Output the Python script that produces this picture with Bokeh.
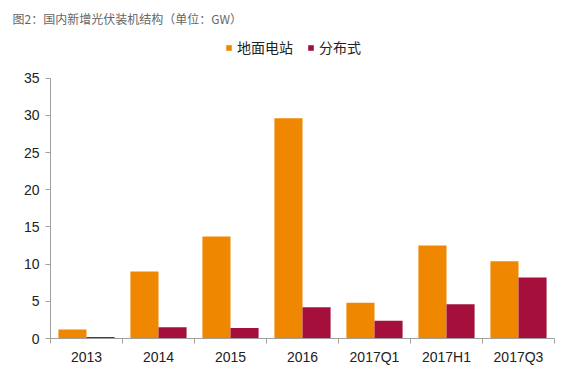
from bokeh.plotting import figure
from bokeh.models import ColumnDataSource, Legend, LegendItem, FixedTicker, Range1d
from bokeh.transform import dodge
from bokeh.embed import file_html
from bokeh.resources import INLINE

categories = ["2013", "2014", "2015", "2016", "2017Q1", "2017H1", "2017Q3"]
ground = [1.2, 9.0, 13.7, 29.6, 4.8, 12.5, 10.4]
distributed = [0.2, 1.5, 1.4, 4.2, 2.4, 4.6, 8.2]
series_names = ["地面电站", "分布式"]
y_ticks = [0, 5, 10, 15, 20, 25, 30, 35]

idx = list(range(len(categories)))
src = ColumnDataSource(dict(x=idx, ground=ground, dist=distributed))

# frame extends above the top tick to leave room for the legend
p = figure(width=568, height=378, output_backend="svg", toolbar_location=None,
           x_range=Range1d(-0.5, len(categories) - 0.5), y_range=Range1d(0, 41),
           min_border_left=50, min_border_right=14, min_border_top=30, min_border_bottom=40)

p.title.text = "图2：国内新增光伏装机结构（单位：GW）"
p.title.text_font = "Noto Sans CJK SC"
p.title.text_font_size = "12px"
p.title.text_font_style = "normal"
p.title.text_color = "#666666"
p.title.align = "left"
p.title.offset = -38
p.title.standoff = 14

bw = 0.39
r1 = p.vbar(x=dodge("x", -bw / 2), top="ground", width=bw, source=src,
            fill_color="#EF8700", line_color=None)
r2 = p.vbar(x=dodge("x", bw / 2), top="dist", width=bw, source=src,
            fill_color="#A50F3C", line_color=None)

legend = Legend(items=[LegendItem(label=series_names[0], renderers=[r1]),
                       LegendItem(label=series_names[1], renderers=[r2])],
                orientation="horizontal", location=(175, 281),
                label_text_font="Noto Sans CJK SC", label_text_font_size="14px",
                label_text_color="#222222", glyph_width=7, glyph_height=7,
                border_line_color=None, background_fill_alpha=0,
                spacing=14, label_standoff=5, padding=2, margin=0)
p.add_layout(legend)

p.xgrid.visible = False
p.ygrid.visible = False
p.outline_line_color = None

p.yaxis.bounds = (0, max(y_ticks))
p.yaxis.ticker = FixedTicker(ticks=y_ticks, minor_ticks=[])
p.yaxis.axis_line_color = "#A0A0A0"
p.yaxis.major_tick_line_color = "#A0A0A0"
p.yaxis.major_tick_out = 5
p.yaxis.major_tick_in = 0
p.yaxis.minor_tick_line_color = None
p.yaxis.major_label_text_font = "Liberation Sans"
p.yaxis.major_label_text_font_size = "14px"
p.yaxis.major_label_text_color = "#222222"
p.yaxis.major_label_standoff = 6

p.xaxis.ticker = FixedTicker(ticks=idx, minor_ticks=[i - 0.5 for i in idx] + [len(idx) - 0.5])
p.xaxis.major_label_overrides = {i: c for i, c in zip(idx, categories)}
p.xaxis.axis_line_color = "#A0A0A0"
p.xaxis.major_tick_line_color = None
p.xaxis.minor_tick_line_color = "#A0A0A0"
p.xaxis.minor_tick_out = 5
p.xaxis.minor_tick_in = 0
p.xaxis.major_label_text_font = "Liberation Sans"
p.xaxis.major_label_text_font_size = "14px"
p.xaxis.major_label_text_color = "#222222"
p.xaxis.major_label_standoff = 4

open("out.html", "w").write(file_html(p, INLINE))
